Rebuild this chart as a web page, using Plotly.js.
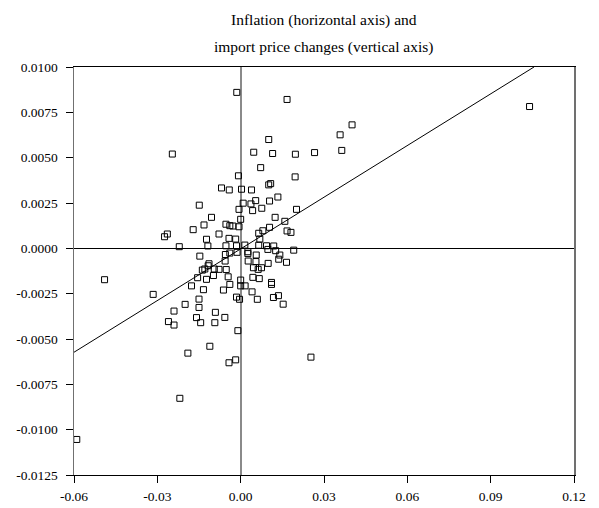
<!DOCTYPE html>
<html>
<head>
<meta charset="utf-8">
<script src="https://cdn.plot.ly/plotly-3.0.1.min.js"></script>
<style>html,body{margin:0;padding:0;background:#fff;}#chart{width:599px;height:508px;}</style>
</head>
<body>
<div id="chart"></div>
<script>
// Inflation (horizontal axis)
const inflation = [
 -0.0014,-0.0246,0.0047,-0.0008,-0.0069,-0.0041,0.0003,0.0039,-0.0149,0.0009,
 0.0037,0.0054,0.0043,-0.0006,-0.0105,0.0000,-0.0132,-0.0053,-0.0039,-0.0028,
 -0.0006,-0.0171,-0.0078,-0.0042,-0.0018,-0.0123,0.0065,-0.0264,-0.0274,-0.0221,
 -0.0118,-0.0053,-0.0015,0.0015,0.0065,-0.0147,-0.0055,-0.0039,0.0026,0.0026,
 0.0056,0.0101,0.0108,0.0167,0.0401,0.0358,0.0364,0.0101,0.0115,0.0197,
 0.0266,0.0072,0.0196,0.0134,0.0104,0.0076,0.0201,0.0124,0.0159,0.0104,
 0.0080,0.0167,0.0181,0.0069,0.0093,0.0119,0.0191,0.0098,0.0126,0.0141,
 0.0137,0.0165,-0.0114,-0.0117,-0.0056,-0.0013,-0.0138,-0.0129,-0.0095,-0.0078,
 -0.0052,-0.0098,-0.0155,-0.0123,-0.0045,0.0000,-0.0177,-0.0134,-0.0039,-0.0062,
 -0.0315,-0.0015,-0.0004,-0.0150,-0.0200,-0.0150,-0.0240,-0.0091,-0.0159,-0.0057,
 -0.0260,-0.0240,-0.0144,-0.0093,-0.0010,-0.0490,-0.0111,-0.0190,-0.0042,-0.0018,
 -0.0219,-0.0590,0.0027,0.0055,0.0046,0.0063,0.0075,0.0099,0.0044,0.0067,
 0.0111,0.0111,0.0000,0.0016,0.0041,0.0060,0.0118,0.0136,0.0153,0.0253,
 0.1040
];
// Import price changes (vertical axis)
const importPrice = [
 0.00860,0.00520,0.00530,0.00400,0.00333,0.00322,0.00326,0.00322,0.00238,0.00249,
 0.00245,0.00263,0.00208,0.00215,0.00171,0.00160,0.00129,0.00133,0.00125,0.00123,
 0.00119,0.00103,0.00079,0.00055,0.00051,0.00050,0.00083,0.00079,0.00064,0.00009,
 0.00013,0.00014,0.00014,0.00018,0.00017,-0.00043,-0.00034,-0.00026,-0.00019,-0.00029,
 -0.00037,0.00350,0.00357,0.00821,0.00681,0.00626,0.00540,0.00600,0.00523,0.00519,
 0.00528,0.00445,0.00394,0.00283,0.00261,0.00221,0.00215,0.00171,0.00149,0.00116,
 0.00097,0.00096,0.00088,0.00051,0.00014,0.00013,-0.00010,-0.00006,-0.00013,-0.00037,
 -0.00060,-0.00077,-0.00085,-0.00096,-0.00070,-0.00022,-0.00120,-0.00114,-0.00114,-0.00116,
 -0.00117,-0.00150,-0.00162,-0.00171,-0.00157,-0.00175,-0.00207,-0.00228,-0.00199,-0.00230,
 -0.00254,-0.00269,-0.00281,-0.00280,-0.00309,-0.00326,-0.00346,-0.00353,-0.00382,-0.00381,
 -0.00404,-0.00423,-0.00410,-0.00410,-0.00454,-0.00173,-0.00540,-0.00578,-0.00631,-0.00615,
 -0.00827,-0.01054,-0.00070,-0.00073,-0.00107,-0.00116,-0.00107,-0.00083,-0.00160,-0.00167,
 -0.00188,-0.00199,-0.00207,-0.00207,-0.00240,-0.00281,-0.00271,-0.00261,-0.00308,-0.00600,
 0.00782
];
// Fitted regression line end points
const fitX = [-0.06, 0.1056];
const fitY = [-0.00573, 0.0100];

const xTicks = [-0.06,-0.03,0.00,0.03,0.06,0.09,0.12];
const xTickText = ['-0.06','-0.03','0.00','0.03','0.06','0.09','0.12'];
const yTicks = [0.0100,0.0075,0.0050,0.0025,0.0000,-0.0025,-0.0050,-0.0075,-0.0100,-0.0125];
const yTickText = ['0.0100','0.0075','0.0050','0.0025','0.0000','-0.0025','-0.0050','-0.0075','-0.0100','-0.0125'];
const titleLines = ['Inflation (horizontal axis) and','import price changes (vertical axis)'];

const serif = 'Liberation Serif, Times New Roman, serif';

const traces = [
  {
    x: fitX, y: fitY, mode: 'lines', type: 'scatter',
    line: {color: '#000', width: 1}, hoverinfo: 'skip'
  },
  {
    x: inflation, y: importPrice, mode: 'markers', type: 'scatter',
    marker: {symbol: 'square-open', size: 6, color: '#000', line: {color: '#000', width: 1}},
    cliponaxis: false
  }
];

const layout = {
  width: 599, height: 508,
  margin: {l: 74, r: 25, t: 67, b: 33},
  paper_bgcolor: '#fff', plot_bgcolor: '#fff',
  showlegend: false,
  font: {family: serif, size: 13, color: '#000'},
  xaxis: {
    range: [-0.06, 0.12], tickvals: xTicks, ticktext: xTickText,
    ticks: 'outside', ticklen: 7, tickcolor: '#000', tickwidth: 1,
    ticklabelstandoff: 2,
    showgrid: false, zeroline: true, zerolinecolor: '#8a8a8a', zerolinewidth: 2,
    showline: true, linecolor: '#000', linewidth: 1, mirror: true,
    tickfont: {family: serif, size: 13.5, color: '#000'}
  },
  yaxis: {
    range: [-0.0125, 0.0100], tickvals: yTicks, ticktext: yTickText,
    ticks: 'outside', ticklen: 7, tickcolor: '#000', tickwidth: 1,
    ticklabelstandoff: 5,
    showgrid: false, zeroline: true, zerolinecolor: '#000', zerolinewidth: 1,
    showline: true, linecolor: '#707070', linewidth: 1.5, mirror: true,
    tickfont: {family: serif, size: 13.5, color: '#000'}
  },
  annotations: [
    {text: titleLines[0], xref: 'paper', yref: 'paper', x: 0.5, y: 1.115,
     xanchor: 'center', yanchor: 'middle', showarrow: false,
     font: {family: serif, size: 15.5, color: '#000'}},
    {text: titleLines[1], xref: 'paper', yref: 'paper', x: 0.5, y: 1.049,
     xanchor: 'center', yanchor: 'middle', showarrow: false,
     font: {family: serif, size: 15.5, color: '#000'}}
  ]
};

Plotly.newPlot('chart', traces, layout, {displayModeBar: false, staticPlot: true});
</script>
</body>
</html>
